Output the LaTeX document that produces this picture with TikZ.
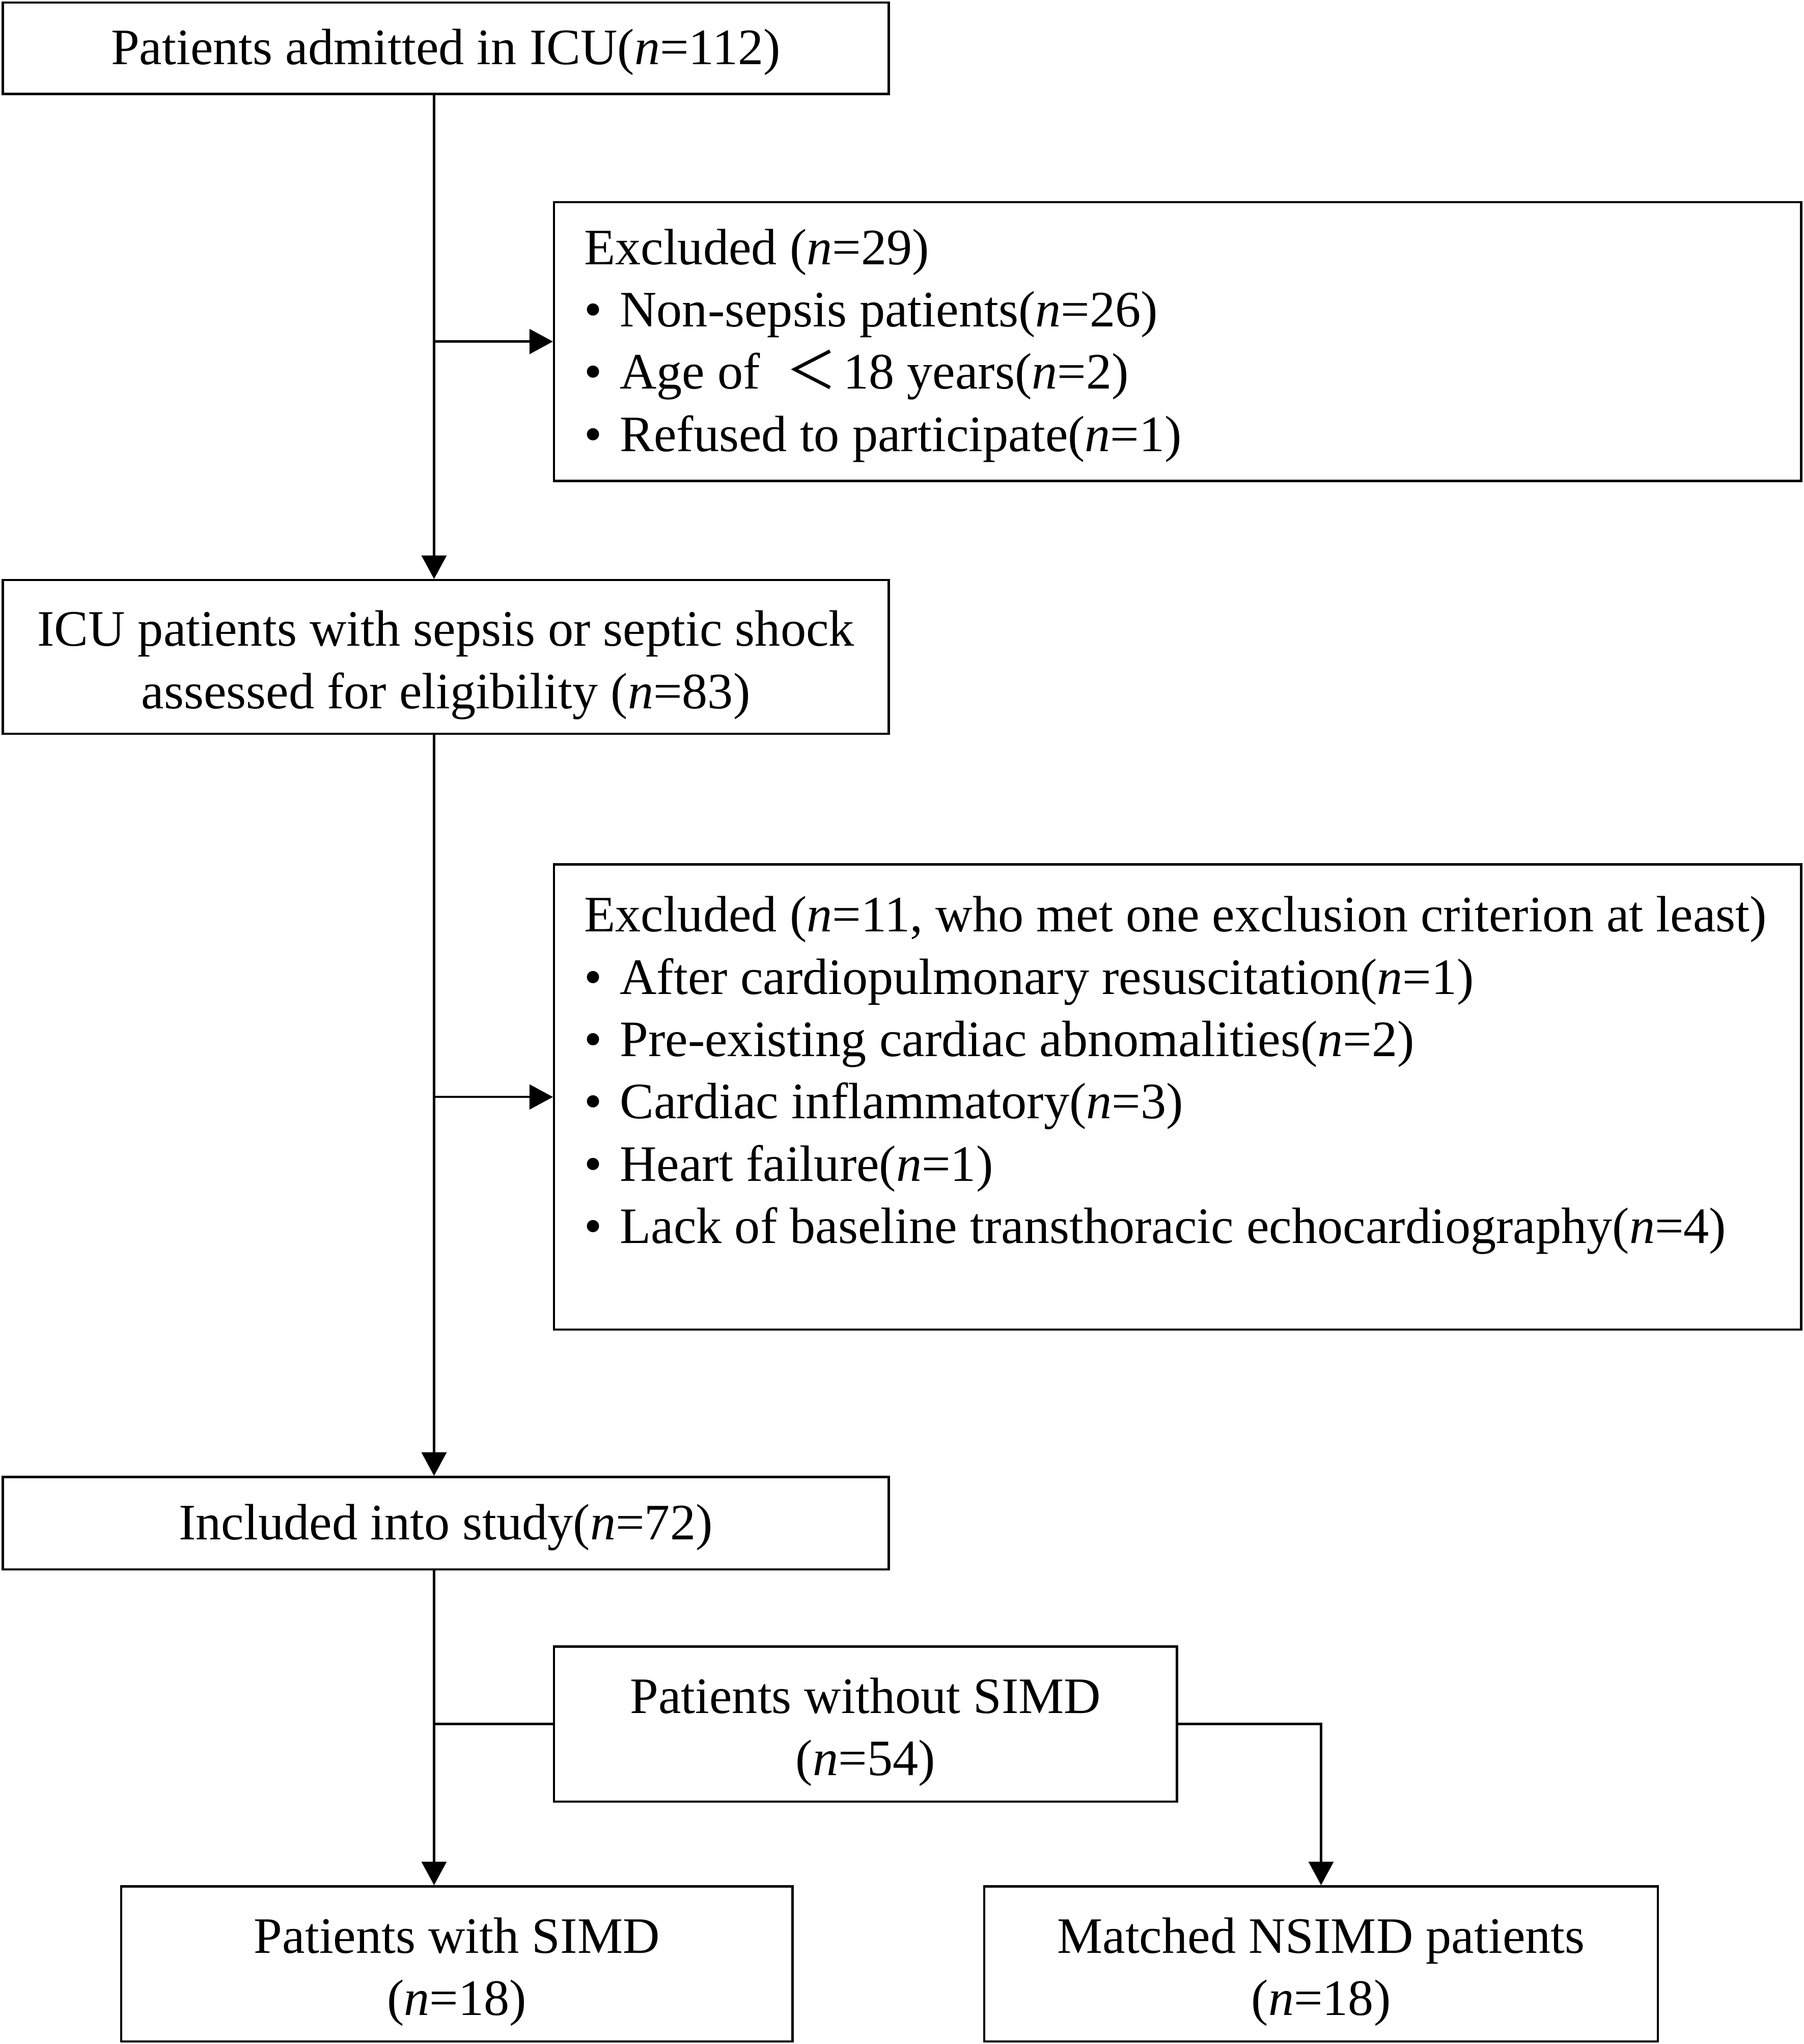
\documentclass[tikz,border=0pt]{standalone}
\usepackage{fontspec}
\setmainfont{Liberation Serif}
\newfontfamily\cjk{Noto Sans CJK SC}
\usetikzlibrary{arrows.meta}
\newcommand\bul{•\hspace{0.35em}}

\begin{document}
\begin{tikzpicture}[x=0.02cm, y=-0.02cm,
    box/.style={draw, line width=1pt, inner sep=0pt, align=center,
      font=\fontsize{22.3}{27.2}\selectfont,
      execute at begin node={\rule{0pt}{19pt}}},
    twobox/.style={box, align=flush center, text width=#1, minimum height=2.38cm,
      execute at begin node={\rule{0pt}{22.5pt}}},
    listbox/.style={box, align=flush left, inner xsep=0.46cm, text width=18.22cm},
    arrow/.style={-{Triangle[length=3.6mm,width=3.8mm]}, line width=1pt}]
  \useasboundingbox (0,0) rectangle (1384,1568);
  % boxes
  \node (admitted) [box, minimum width=13.6cm, minimum height=1.4cm] at (342,37)
    {Patients admitted in ICU(\textit{n}=112)};
  \node (excl1) [listbox, minimum height=4.28cm] at (903.5,262)
    {Excluded (\textit{n}=29)\\
     \bul Non-sepsis patients(\textit{n}=26)\\
     \bul Age of\ \ {\cjk ＜}\hspace{0.1cm}18 years(\textit{n}=2)\\
     \bul Refused to participate(\textit{n}=1)};
  \node (sepsis) [twobox=13.6cm, minimum height=2.36cm] at (342,504)
    {ICU patients with sepsis or septic shock\\ assessed for eligibility (\textit{n}=83)};
  \node (excl2) [listbox, minimum height=7.14cm] at (903.5,841.5)
    {\mbox{Excluded (\textit{n}=11, who met one exclusion criterion at least)}\\
     \bul After cardiopulmonary resuscitation(\textit{n}=1)\\
     \bul Pre-existing cardiac abnomalities(\textit{n}=2)\\
     \bul Cardiac inflammatory(\textit{n}=3)\\
     \bul Heart failure(\textit{n}=1)\\
     \bul Lack of baseline transthoracic echocardiography(\textit{n}=4)\\
     \mbox{}};
  \node (included) [box, minimum width=13.6cm, minimum height=1.42cm] at (342,1168.5)
    {Included into study(\textit{n}=72)};
  \node (nosimd) [twobox=9.56cm] at (664,1322.5)
    {Patients without SIMD\\ (\textit{n}=54)};
  \node (simd) [twobox=10.3cm] at (350.5,1506.5)
    {Patients with SIMD\\ (\textit{n}=18)};
  \node (nsimd) [twobox=10.34cm] at (1013.5,1506.5)
    {Matched NSIMD patients\\ (\textit{n}=18)};
  % connectors
  \coordinate (trunk) at (333,0);
  \draw[arrow] (admitted.south -| trunk) -- (sepsis.north -| trunk);
  \draw[arrow] (excl1.west -| trunk) -- (excl1.west);
  \draw[arrow] (sepsis.south -| trunk) -- (included.north -| trunk);
  \draw[arrow] (excl2.west -| trunk) -- (excl2.west);
  \draw[arrow] (included.south -| trunk) -- (simd.north -| trunk);
  \draw[line width=1pt] (nosimd.west) -- (nosimd.west -| trunk);
  \draw[arrow] (nosimd.east) -| (nsimd.north);
\end{tikzpicture}
\end{document}
